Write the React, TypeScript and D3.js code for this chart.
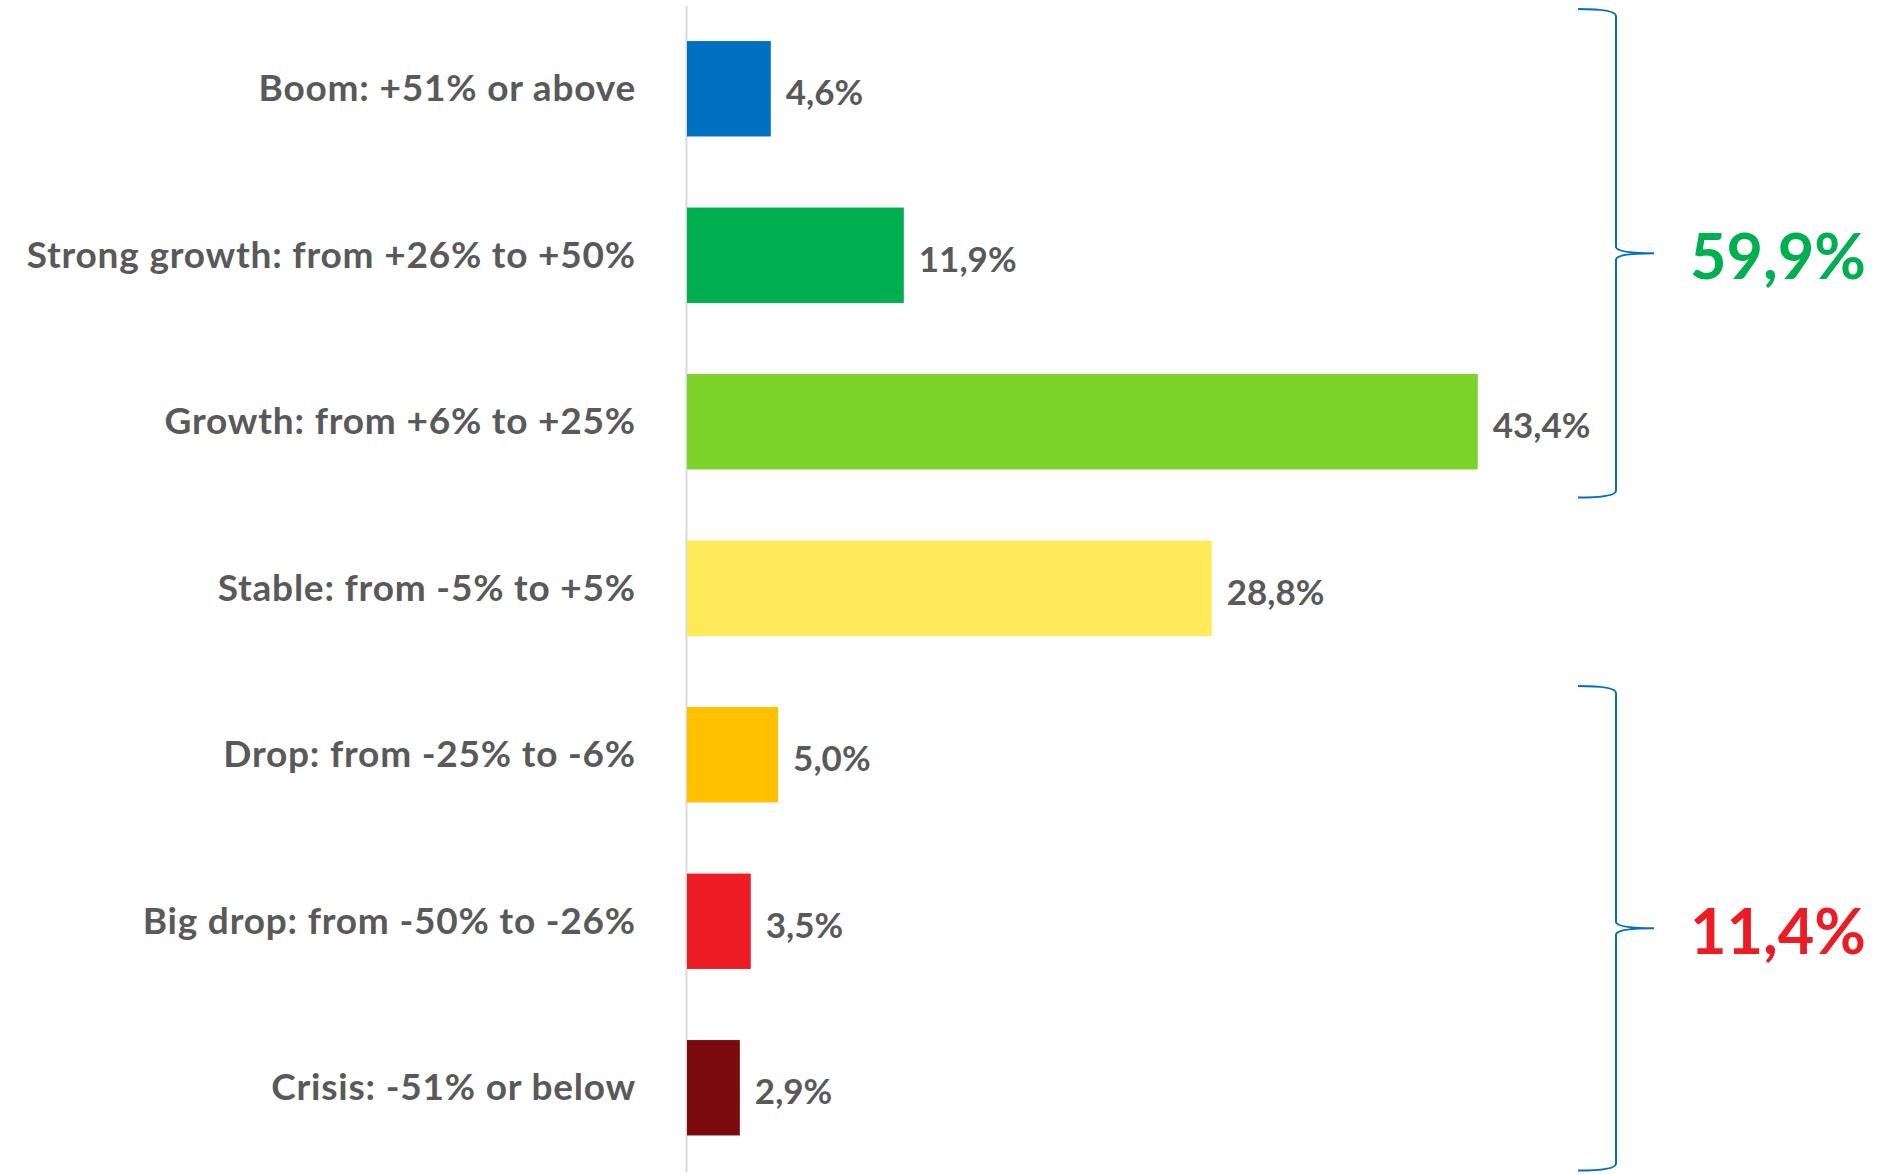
import React from "react";
import * as d3 from "d3";

const categories = [
  "Boom: +51% or above",
  "Strong growth: from +26% to +50%",
  "Growth: from +6% to +25%",
  "Stable: from -5% to +5%",
  "Drop: from -25% to -6%",
  "Big drop: from -50% to -26%",
  "Crisis: -51% or below",
];
const values = [4.6, 11.9, 43.4, 28.8, 5.0, 3.5, 2.9];
const barColors = ["#0070C0", "#00B050", "#7ED32B", "#FFEB59", "#FFC000", "#ED1C24", "#7A0A0E"];
const groupFrom = [0, 4];
const groupTo = [2, 6];
const groupColors = ["#00B050", "#ED1C24"];

const W = 1893;
const H = 1174;
const FONT = "Lato, 'Open Sans', sans-serif";
const GRAY = "#595959";
// hand-drawn brace extents relative to the first/last band (px)
const braceTopPad = [32, 21];
const braceBotPad = [28, 35];

const fmt = (v: number) => v.toFixed(1).replace(".", ",") + "%";

export default function App() {
  const x = d3.scaleLinear().domain([0, 50]).range([687, 1598]);
  const y = d3
    .scaleBand<string>()
    .domain(categories)
    .range([5.5, 1171])
    .paddingInner(0.427)
    .paddingOuter(0.2135);
  const bw = y.bandwidth();

  const braceX0 = 1578;
  const braceXV = 1616;
  const braceXT = 1654;

  return (
    <svg
      width={W}
      height={H}
      style={{ position: "absolute", left: 0, top: 0, display: "block", background: "#fff" }}
      fontFamily={FONT}
    >
      <line x1={686.5} x2={686.5} y1={6} y2={1172} stroke="#D9D9D9" strokeWidth={2} />
      {categories.map((c, i) => {
        const yc = (y(c) as number) + bw / 2;
        return (
          <g key={c}>
            <rect x={x(0)} y={y(c)} width={x(values[i]) - x(0)} height={bw} fill={barColors[i]} />
            <text
              x={636}
              y={yc}
              dy="0.34em"
              textAnchor="end"
              fontSize={37}
              fontWeight={700}
              letterSpacing={0.8}
              fill={GRAY}
            >
              {c}
            </text>
            <text
              x={x(values[i]) + 15}
              y={yc + 4}
              dy="0.36em"
              textAnchor="start"
              fontSize={35}
              fontWeight={700}
              fill={GRAY}
            >
              {fmt(values[i])}
            </text>
          </g>
        );
      })}
      {groupFrom.map((from, gi) => {
        const to = groupTo[gi];
        const top = (y(categories[from]) as number) - braceTopPad[gi];
        const bot = (y(categories[to]) as number) + bw + braceBotPad[gi];
        const mid = (top + bot) / 2;
        const total = d3.sum(values.slice(from, to + 1));
        const p = d3.path();
        p.moveTo(braceX0, top);
        p.quadraticCurveTo(braceXV, top, braceXV, top + 7);
        p.lineTo(braceXV, mid - 6);
        p.quadraticCurveTo(braceXV + 2, mid, braceXT, mid);
        p.quadraticCurveTo(braceXV + 2, mid, braceXV, mid + 6);
        p.lineTo(braceXV, bot - 7);
        p.quadraticCurveTo(braceXV, bot, braceX0, bot);
        return (
          <g key={gi}>
            <path d={p.toString()} fill="none" stroke="#0070C0" strokeWidth={2} />
            <text
              x={1778}
              y={mid + 26}
              textAnchor="middle"
              fontSize={63}
              fontWeight={700}
              fill={groupColors[gi]}
            >
              {fmt(total)}
            </text>
          </g>
        );
      })}
    </svg>
  );
}
